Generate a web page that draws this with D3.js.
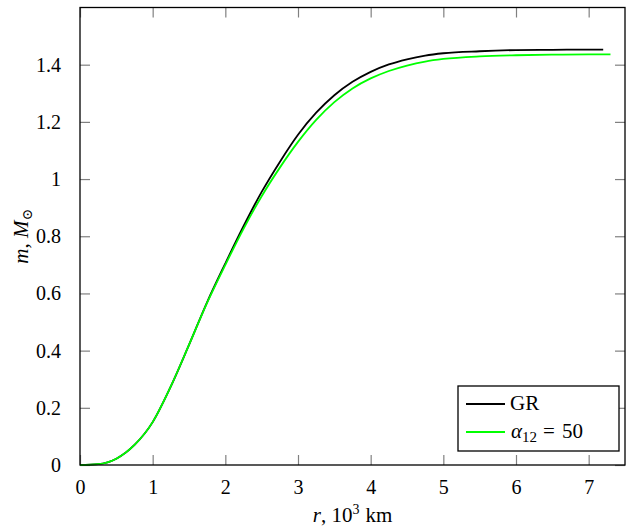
<!DOCTYPE html>
<html>
<head>
<meta charset="utf-8">
<script src="https://cdn.jsdelivr.net/npm/d3@7"></script>
<style>
  body { margin: 0; background: #fff; }
  svg text { font-family: "Liberation Serif", "DejaVu Serif", serif; }
</style>
</head>
<body>
<div id="chart"></div>
<script>
// r in 10^3 km, m in solar masses
const rGR = [0, 0.25, 0.5, 0.75, 1.0, 1.25, 1.5, 1.75, 2.0, 2.25, 2.5, 2.75, 3.0, 3.25, 3.5, 3.75, 4.0, 4.25, 4.5, 4.75, 5.0, 5.5, 6.0, 6.5, 7.0, 7.2];
const mGR = [0, 0.003, 0.022, 0.07, 0.15, 0.275, 0.42, 0.57, 0.705, 0.835, 0.955, 1.06, 1.155, 1.232, 1.293, 1.34, 1.375, 1.401, 1.419, 1.432, 1.44, 1.447, 1.451, 1.452, 1.453, 1.453];

const rAlpha = [0, 0.25, 0.5, 0.75, 1.0, 1.25, 1.5, 1.75, 2.0, 2.25, 2.5, 2.75, 3.0, 3.25, 3.5, 3.75, 4.0, 4.25, 4.5, 4.75, 5.0, 5.5, 6.0, 6.5, 7.0, 7.3];
const mAlpha = [0, 0.003, 0.022, 0.07, 0.15, 0.275, 0.42, 0.568, 0.7, 0.826, 0.94, 1.04, 1.13, 1.207, 1.269, 1.317, 1.352, 1.378, 1.397, 1.411, 1.42, 1.429, 1.433, 1.435, 1.436, 1.436];

const xTicks = [0, 1, 2, 3, 4, 5, 6, 7];
const yTicks = [0, 0.2, 0.4, 0.6, 0.8, 1, 1.2, 1.4];

const series = [
  { name: 'GR', color: '#000000', r: rGR, m: mGR },
  { name: 'alpha', color: '#00ff00', r: rAlpha, m: mAlpha }
];

const serif = '"Liberation Serif", "DejaVu Serif", serif';
const W = 634, H = 530;
const margin = { t: 7.5, r: 9, b: 65, l: 80 };
const width = W - margin.l - margin.r;
const height = H - margin.t - margin.b;

const svg = d3.select('#chart').append('svg').attr('width', W).attr('height', H)
  .attr('font-family', serif);
const g = svg.append('g').attr('transform', `translate(${margin.l},${margin.t})`);

const x = d3.scaleLinear().domain([0, 7.5]).range([0, width]);
const y = d3.scaleLinear().domain([0, 1.6]).range([height, 0]);

const tickLen = 10;
const tickColor = '#808080';

// ticks on all four sides, pointing inward
g.append('g').attr('transform', `translate(0,${height})`)
  .call(d3.axisBottom(x).tickValues(xTicks).tickSize(-tickLen).tickPadding(tickLen + 5).tickFormat(d3.format('d')))
  .call(a => a.select('.domain').remove());
g.append('g')
  .call(d3.axisTop(x).tickValues(xTicks).tickSize(-tickLen).tickFormat(''))
  .call(a => a.select('.domain').remove());
g.append('g')
  .call(d3.axisLeft(y).tickValues(yTicks).tickSize(-tickLen).tickPadding(tickLen + 9).tickFormat(d => d === 0 || d === 1 ? d3.format('d')(d) : d3.format('.1f')(d)))
  .call(a => a.select('.domain').remove());
g.append('g').attr('transform', `translate(${width},0)`)
  .call(d3.axisRight(y).tickValues(yTicks).tickSize(-tickLen).tickFormat(''))
  .call(a => a.select('.domain').remove());

g.selectAll('.tick').attr('font-family', serif);
g.selectAll('.tick line').attr('stroke', tickColor).attr('stroke-width', 1.2);
g.selectAll('.tick text').attr('font-family', serif).attr('font-size', 20).attr('fill', '#000');

// curves
const line = d3.line().x(d => x(d[0])).y(d => y(d[1])).curve(d3.curveMonotoneX);
g.append('g').selectAll('.curve').data(series).join('path')
  .attr('class', 'curve')
  .attr('d', s => line(s.r.map((r, i) => [r, s.m[i]])))
  .attr('fill', 'none')
  .attr('stroke', s => s.color)
  .attr('stroke-width', 1.8);

// frame
g.append('rect').attr('width', width).attr('height', height)
  .attr('fill', 'none').attr('stroke', '#000').attr('stroke-width', 1.3);

// legend
const leg = g.append('g').attr('transform', `translate(${458 - margin.l},${386 - margin.t})`);
leg.append('rect').attr('width', 161).attr('height', 65)
  .attr('fill', '#fff').attr('stroke', '#000').attr('stroke-width', 1.3);
leg.selectAll('.leg-line').data(series).join('line')
  .attr('x1', 8).attr('x2', 47)
  .attr('y1', (d, i) => 18 + i * 28).attr('y2', (d, i) => 18 + i * 28)
  .attr('stroke', d => d.color).attr('stroke-width', 1.8);
leg.append('text').attr('x', 52).attr('y', 24).attr('font-size', 21).text('GR');
const t2 = leg.append('text').attr('x', 53).attr('y', 52).attr('font-size', 21).attr('xml:space', 'preserve');
t2.append('tspan').attr('font-style', 'italic').text('α');
t2.append('tspan').attr('dy', 4).attr('font-size', 15).text('12');
t2.append('tspan').attr('dy', -4).attr('dx', 6).text('=');
t2.append('tspan').attr('dx', 7).text('50');

// axis titles
const xt = svg.append('text').attr('x', margin.l + width / 2).attr('y', 522)
  .attr('text-anchor', 'middle').attr('font-size', 21);
xt.append('tspan').attr('font-style', 'italic').text('r');
xt.append('tspan').text(', 10');
xt.append('tspan').attr('dy', -8).attr('font-size', 14).text('3');
xt.append('tspan').attr('dy', 8).attr('dx', 6).text('km');

const yt = svg.append('text')
  .attr('transform', `translate(28,${margin.t + height / 2}) rotate(-90)`)
  .attr('text-anchor', 'middle').attr('font-size', 21);
yt.append('tspan').attr('font-style', 'italic').text('m');
yt.append('tspan').text(', ');
yt.append('tspan').attr('font-style', 'italic').text('M');
yt.append('tspan').attr('dy', 4).attr('font-size', 14).text('⊙');
</script>
</body>
</html>
